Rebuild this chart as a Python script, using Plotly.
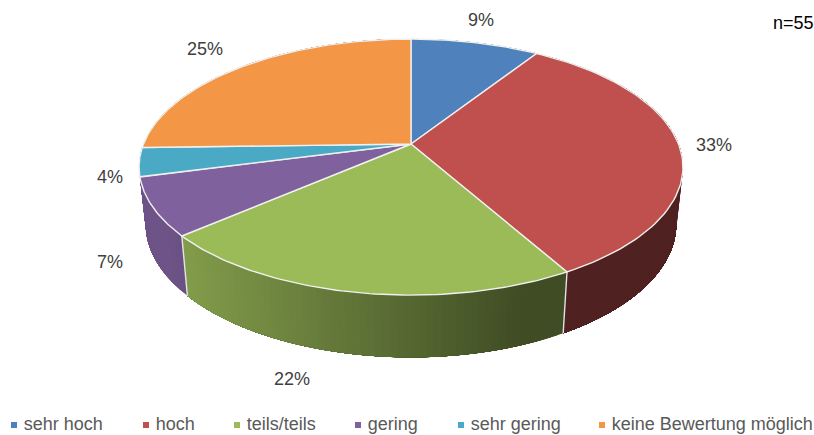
import numpy as np
import plotly.graph_objects as go

categories = ["sehr hoch", "hoch", "teils/teils", "gering", "sehr gering", "keine Bewertung möglich"]
counts = [5, 18, 12, 4, 2, 14]
colors = ["#4f81bd", "#c0504d", "#9bbb59", "#7f619d", "#4aaac5", "#f39646"]
n_label = "n=55"

W, H = 814, 435
CX = 411
K = 0.18  # perspective of the pie plane
TOP = dict(a=267.5, b=123.9, cy=144)
BOT = dict(a=261, b=129, cy=200)


def project(theta, d):
    u, v = np.sin(theta), np.cos(theta)
    w = 1 + K * v
    return CX + d["a"] * u / w, d["cy"] - d["b"] * v / w


def shade(hex_col, f):
    rgb = [int(hex_col[i:i + 2], 16) for i in (1, 3, 5)]
    return "rgb(%d,%d,%d)" % tuple(round(c * f) for c in rgb)


def side_factor(x):
    # dark towards the right, like the office gradient
    return np.clip(0.83 - (x - 186) * 0.00125, 0.41, 0.86)


total = sum(counts)
edges = 2 * np.pi * np.concatenate([[0], np.cumsum(counts)]) / total
fig = go.Figure()

# sides, back to front; each strip runs on under the next one so no seams show
order = sorted(range(len(counts)), key=lambda i: -np.cos((edges[i] + edges[i + 1]) / 2))
for i in order:
    steps = np.linspace(edges[i], edges[i + 1], max(3, int(counts[i] * 5)))
    for j in range(len(steps) - 1):
        t = np.linspace(steps[j], edges[i + 1], 40)
        xt, yt = project(t, TOP)
        xb, yb = project(t[::-1], BOT)
        x0 = project(steps[j], TOP)[0]
        x1 = project(steps[j + 1], TOP)[0]
        col = shade(colors[i], side_factor((x0 + x1) / 2))
        fig.add_trace(go.Scatter(x=np.concatenate([xt, xb, xt[:1]]),
                                 y=np.concatenate([yt, yb, yt[:1]]),
                                 mode="none", fill="toself", fillcolor=col,
                                 hoverinfo="skip", showlegend=False))

# white seams on the visible side corners
for e in edges[2:4]:
    x0, y0 = project(e, TOP)
    x1, y1 = project(e, BOT)
    fig.add_trace(go.Scatter(x=[x0, x1], y=[y0, y1], mode="lines",
                             line=dict(color="#e4e4e4", width=1.4),
                             hoverinfo="skip", showlegend=False))

# top face
for i in range(len(counts)):
    t = np.linspace(edges[i], edges[i + 1], 80)
    x, y = project(t, TOP)
    x = np.concatenate([[CX], x, [CX]])
    y = np.concatenate([[TOP["cy"]], y, [TOP["cy"]]])
    fig.add_trace(go.Scatter(x=x, y=y, mode="lines", fill="toself", fillcolor=colors[i],
                             line=dict(color="#f0f0f0", width=1.4),
                             name=categories[i], hoverinfo="name", showlegend=False))

# legend row
legend_x = [14, 146, 237, 358, 461, 602]
fig.add_trace(go.Scatter(x=legend_x, y=[425] * 6, mode="markers+text", cliponaxis=False,
                         marker=dict(symbol="square", size=6, color=colors),
                         text=[" " + c for c in categories], textposition="middle right",
                         textfont=dict(family="Liberation Sans", size=18, color="#595959"),
                         hoverinfo="skip", showlegend=False))

label_x = [481, 714, 292, 110, 110, 205]
label_y = [20, 145, 379, 262, 177, 49]
for c, lx, ly in zip(counts, label_x, label_y):
    fig.add_annotation(x=lx, y=ly, text="%d%%" % round(100 * c / total), showarrow=False,
                       font=dict(family="Liberation Sans", size=18, color="#404040"))
fig.add_annotation(x=814, y=23, xanchor="right", text=n_label, showarrow=False, xshift=2,
                   font=dict(family="Liberation Sans", size=18, color="#000000"))

fig.update_layout(width=W, height=H, margin=dict(l=0, r=0, t=0, b=0),
                  paper_bgcolor="white", plot_bgcolor="white", showlegend=False,
                  xaxis=dict(range=[0, W], visible=False, fixedrange=True),
                  yaxis=dict(range=[H, 0], visible=False, fixedrange=True))
fig.write_html("out.html", config=dict(displayModeBar=False),
               post_script="document.body.style.margin='0';")
